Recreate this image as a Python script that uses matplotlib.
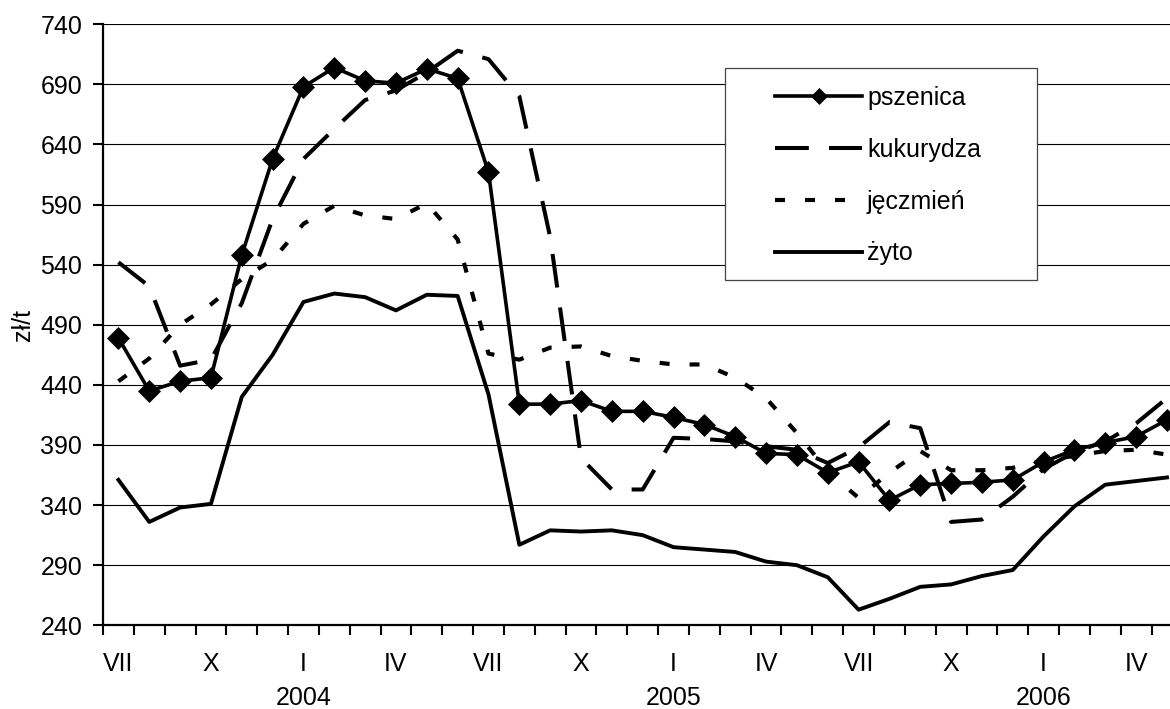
import matplotlib
matplotlib.use("Agg")
import matplotlib.pyplot as plt
from matplotlib.patches import Rectangle
import numpy as np

plt.rcParams['font.family'] = ['Liberation Sans', 'DejaVu Sans']

# monthly prices, VII 2003 .. V 2006 (zł/t)
months = list(range(35))
pszenica = [479, 435, 443, 446, 548, 628, 688, 704, 693, 691, 703, 695,
            617, 424, 424, 427, 418, 418, 413, 407, 397, 383, 382, 367,
            376, 344, 357, 358, 359, 361, 376, 386, 392, 397, 411]
kukurydza = [542, 522, 456, 461, 508, 578, 628, 653, 677, 685, 700, 718,
             711, 680, 563, 379, 353, 353, 396, 395, 393, 389, 386, 375,
             388, 409, 404, 326, 328, 347, 370, 384, 393, 408, 429]
jeczmien = [443, 462, 490, 507, 528, 544, 574, 589, 581, 578, 591, 561,
            466, 461, 471, 472, 464, 460, 457, 457, 446, 429, 400, 368,
            346, 367, 385, 369, 369, 371, 377, 381, 385, 386, 382]
zyto = [361, 326, 338, 341, 430, 465, 509, 516, 513, 502, 515, 514,
        432, 307, 319, 318, 319, 315, 305, 303, 301, 293, 290, 280,
        253, 262, 272, 274, 281, 286, 314, 339, 357, 360, 363]

tick_pos = [0, 3, 6, 9, 12, 15, 18, 21, 24, 27, 30, 33]
tick_labels = ["VII", "X", "I", "IV", "VII", "X", "I", "IV",
               "VII", "X", "I", "IV"]
year_pos = [6, 18, 30]
year_labels = ["2004", "2005", "2006"]

fs = 18
W, H = 1170, 709
fig = plt.figure(figsize=(11.7, 7.09), dpi=100)
ax = fig.add_axes([103 / W, 1 - 625.3 / H, 1 - 103 / W, (625.3 - 24.3) / H])

ax.plot(months, pszenica, color='black', lw=2.6, marker='D', ms=11.5,
        mew=0.5, label='pszenica', zorder=6)
ax.plot(months, kukurydza, color='black', lw=2.9, dashes=(8.4, 5),
        label='kukurydza', zorder=4)
ax.plot(months, jeczmien, color='black', lw=3.0, dashes=(2.4, 4.8),
        label='jęczmień', zorder=4)
ax.plot(months, zyto, color='black', lw=2.8, label='żyto', zorder=5)

ax.set_ylim(240, 740)
ax.set_yticks(np.arange(240, 741, 50))
ax.set_xlim(-0.5, -0.5 + (W - 103) / 30.84)
ax.set_xticks(np.arange(-0.5, 34, 1))
ax.set_xticklabels([])
ax.set_xticks(tick_pos, minor=True)
ax.set_xticklabels(tick_labels, minor=True)
ax.tick_params(axis='x', which='minor', length=0, pad=19, labelsize=fs)
ax.tick_params(axis='x', which='major', length=7, width=1.5, direction='out')
ax.tick_params(axis='y', length=7, width=1.5, pad=8, labelsize=fs)

ax.yaxis.grid(True, color='black', lw=0.8)
ax.set_axisbelow(True)
for s in ['top', 'right']:
    ax.spines[s].set_visible(False)
for s in ['left', 'bottom']:
    ax.spines[s].set_linewidth(1.6)

for xp, yl in zip(year_pos, year_labels):
    ax.text(xp, -0.1334, yl, transform=ax.get_xaxis_transform(),
            ha='center', va='baseline', fontsize=fs)

ax.set_ylabel('zł/t', fontsize=fs, labelpad=4)

# legend frame
frame = Rectangle((724.7 / W, 1 - 280 / H), 312 / W, (280 - 67.7) / H,
                  transform=fig.transFigure, facecolor='white',
                  edgecolor='#444444', lw=0.9, zorder=9, clip_on=False)
ax.add_patch(frame)

leg = ax.legend(loc='upper left', bbox_to_anchor=(775 / W, 1 - 86 / H),
                bbox_transform=fig.transFigure, fontsize=fs, frameon=False,
                handlelength=3.48, handletextpad=0.2, labelspacing=1.11,
                borderpad=0, borderaxespad=0, markerscale=0.75)
leg.set_zorder(10)

fig.savefig('out.png', dpi=100)
